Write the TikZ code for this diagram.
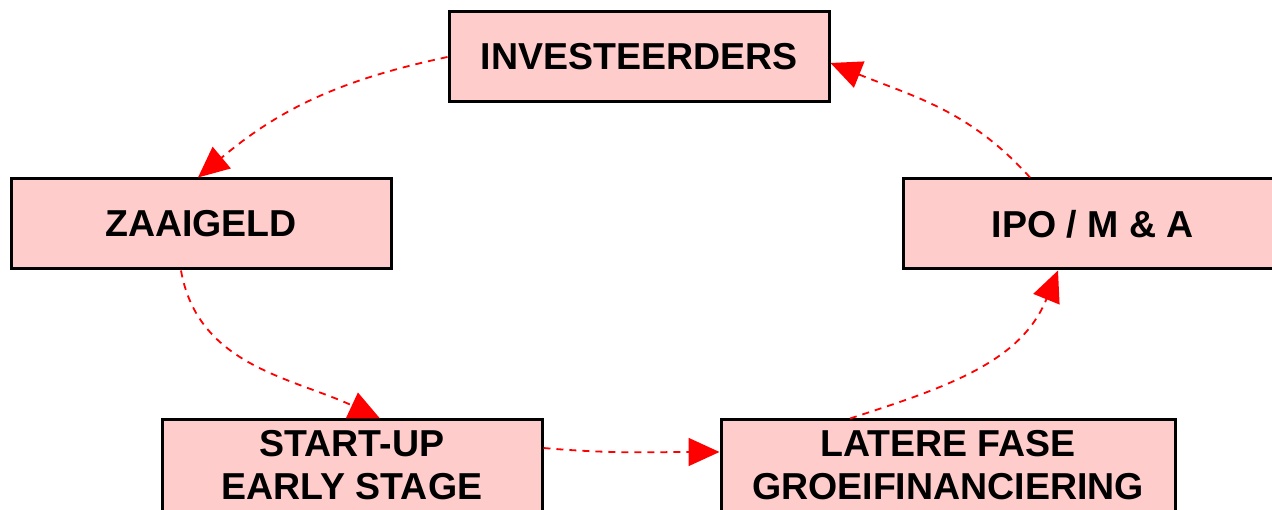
\documentclass[tikz,border=0pt]{standalone}
\usepackage{fontspec}
\setmainfont{Liberation Sans}
\usetikzlibrary{arrows.meta}
\definecolor{boxpink}{HTML}{FFCCCC}
\begin{document}
\begin{tikzpicture}[x=1pt,y=1pt,
  stagebox/.style={draw=black, line width=3pt, fill=boxpink, minimum width=380pt, minimum height=90pt,
    inner sep=0pt, align=center, font=\fontsize{37.5}{43}\selectfont\bfseries},
  conn/.style={draw=red, line width=1.8pt, dash pattern=on 7pt off 6pt,
    -{Triangle[length=31pt,width=28pt]}}]
\useasboundingbox (0,0) rectangle (1272,510);
\clip (0,0) rectangle (1272,510);
\node[stagebox] (inv) at (639,453) {INVESTEERDERS};
\node[stagebox] (zaai) at (201,286) {ZAAIGELD};
\node[stagebox] (ipo) at (1093,286) {IPO / M \& A};
\node[stagebox, minimum height=100pt] (start) at (352,40) {START-UP\\EARLY STAGE\rule[-10pt]{0pt}{0pt}};
\node[stagebox, minimum width=454pt, minimum height=100pt] (late) at (948,40) {LATERE FASE\\GROEIFINANCIERING\rule[-10pt]{0pt}{0pt}};
\draw[conn] (inv.west) to[out=192,in=40] ([xshift=-3pt]zaai.north);
\draw[conn] ([xshift=-20pt]zaai.south) to[out=-80,in=155] ([xshift=28pt]start.north);
\draw[conn] ([yshift=22pt]start.east) to[out=-5,in=180] ([yshift=18pt]late.west);
\draw[conn] ([xshift=-98pt]late.north) to[out=18,in=-112] ([xshift=-35pt]ipo.south);
\draw[conn] ([xshift=-63pt]ipo.north) to[out=132,in=-22] ([yshift=-6pt]inv.east);
\end{tikzpicture}
\end{document}
